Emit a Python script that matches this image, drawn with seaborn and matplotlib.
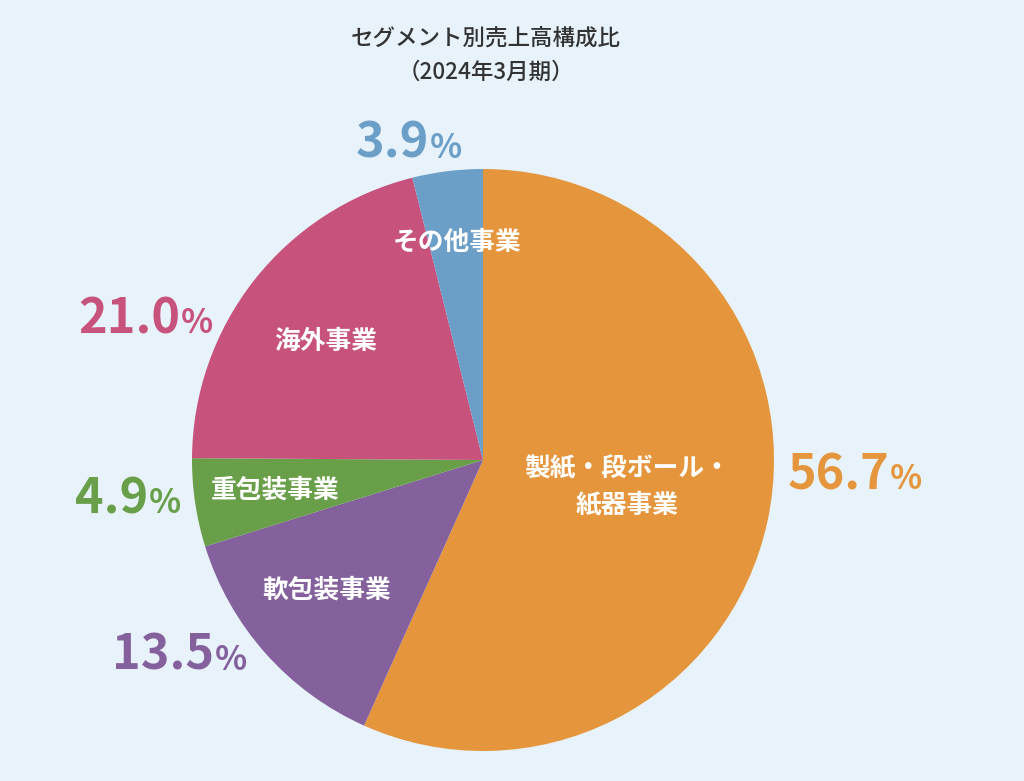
import matplotlib
matplotlib.use("Agg")
import matplotlib.pyplot as plt
import seaborn as sns

# ---- data ----
segments = ["製紙・段ボール・\n紙器事業", "軟包装事業", "重包装事業", "海外事業", "その他事業"]
shares = [56.7, 13.5, 4.9, 21.0, 3.9]
title_lines = ["セグメント別売上高構成比", "（2024年3月期）"]

# ---- styles ----
colors = ["#E5963D", "#84609D", "#689F48", "#C7537C", "#6C9FC8"]
bg = "#E8F2FB"

sns.set_theme(style="white")
plt.rcParams["font.family"] = ["Noto Sans CJK JP", "DejaVu Sans"]

W, H = 1024, 781
CX, CY, R = 483, 460, 291  # pixel layout of the pie

fig = plt.figure(figsize=(W / 100, H / 100), dpi=100, facecolor=bg)
ax = fig.add_axes([0, 0, 1, 1])
ax.set_facecolor(bg)

ax.pie(shares, colors=colors, startangle=90, counterclock=False,
       radius=1.0, center=(0, 0), wedgeprops=dict(linewidth=0))

ax.set_aspect("auto")
ax.set_xlim(-CX / R, (W - CX) / R)
ax.set_ylim(-(H - CY) / R, CY / R)
ax.axis("off")


def px(x, y):
    return (x - CX) / R, (CY - y) / R


# inner labels (pixel layout positions)
inner_pos = [(627, 487), (326, 590), (275, 490), (326, 341), (457, 242)]
for name, (x, y) in zip(segments, inner_pos):
    ax.text(*px(x, y), name, ha="center", va="center", color="white",
            fontsize=18.5, fontweight="bold", linespacing=1.45)

# outer percentage labels: split point between number and %, baseline
outer_pos = [(889, 489), (214, 670), (148, 513), (180, 333), (429, 158)]
for v, c, (x, y) in zip(shares, colors, outer_pos):
    ax.text(*px(x, y), f"{v:.1f}", ha="right", va="baseline", color=c,
            fontsize=35, fontweight="bold")
    ax.text(*px(x + 1, y), "%", ha="left", va="baseline", color=c,
            fontsize=24, fontweight="bold")

# title
fig.text(486 / W, 1 - 38 / H, title_lines[0], ha="center", va="center",
         fontsize=16.2, color="#333333", fontweight="medium")
fig.text(486 / W, 1 - 72 / H, title_lines[1], ha="center", va="center",
         fontsize=16.2, color="#333333", fontweight="medium")

fig.savefig("out.png", dpi=100, facecolor=bg)
